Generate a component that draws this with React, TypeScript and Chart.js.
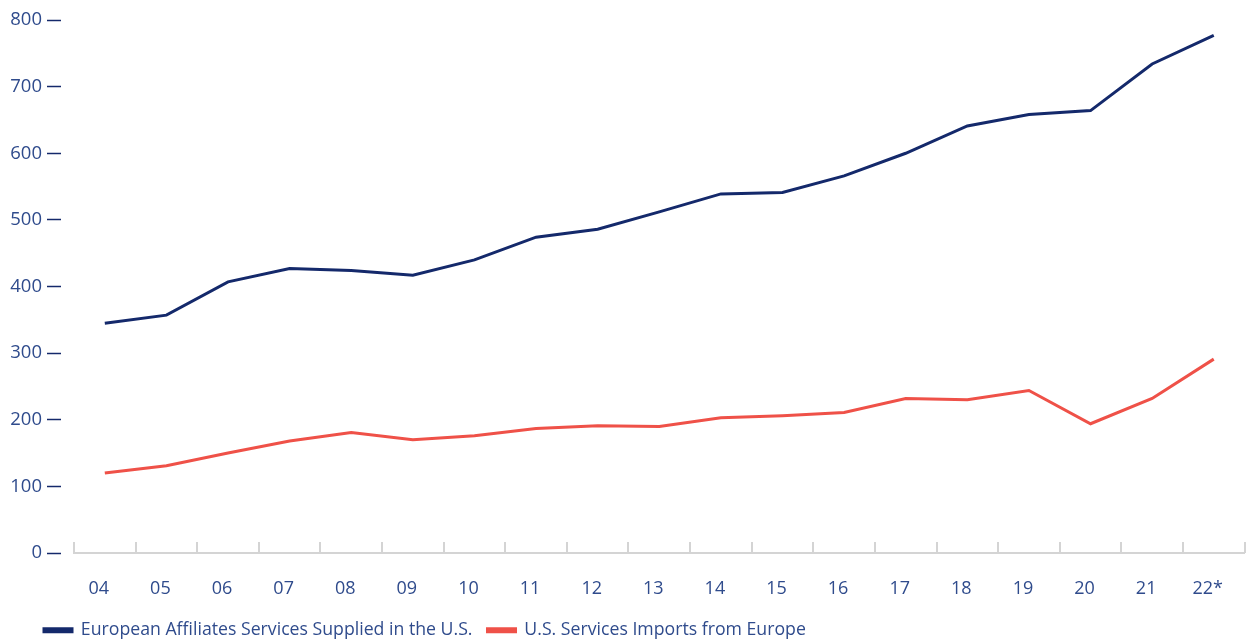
import React, { useEffect, useRef } from "react";
import { Chart, registerables } from "chart.js";

Chart.register(...registerables);

const years = ["04", "05", "06", "07", "08", "09", "10", "11", "12", "13", "14", "15", "16", "17", "18", "19", "20", "21", "22*"];
const affiliatesServices = [345, 357, 407, 427, 424, 417, 440, 474, 486, 512, 539, 541, 566, 600, 641, 658, 664, 734, 777];
const servicesImports = [120, 131, 150, 168, 181, 170, 176, 187, 191, 190, 203, 206, 211, 232, 230, 244, 194, 232, 291];
const seriesNames = ["European Affiliates Services Supplied in the U.S.", "U.S. Services Imports from Europe"];

const NAVY = "#14296b";
const RED = "#ef5148";
const TEXT = "#2f4b8c";
const GRAY = "#d4d4d4";
const FONT = "'Open Sans', sans-serif";

const upwardTicks = {
  id: "upwardTicks",
  afterLayout(chart: any) {
    if (chart.legend) chart.legend.left = 29;
  },
  afterDraw(chart: any) {
    const x = chart.scales.x;
    const area = chart.chartArea;
    const ctx = chart.ctx;
    const n = years.length;
    const half = (x.getPixelForValue(1) - x.getPixelForValue(0)) / 2;
    ctx.save();
    ctx.strokeStyle = GRAY;
    ctx.lineWidth = 2;
    for (let i = 0; i <= n; i++) {
      const px = Math.round(x.getPixelForValue(i) - half);
      ctx.beginPath();
      ctx.moveTo(px, area.bottom);
      ctx.lineTo(px, area.bottom - 11);
      ctx.stroke();
    }
    ctx.restore();
  },
};

export default function App() {
  const ref = useRef<HTMLCanvasElement | null>(null);
  useEffect(() => {
    document.body.style.margin = "0";
    const chart = new Chart(ref.current as HTMLCanvasElement, {
      type: "line",
      data: {
        labels: years,
        datasets: [
          { label: seriesNames[0], data: affiliatesServices, borderColor: NAVY, backgroundColor: NAVY, borderWidth: 3, pointRadius: 0, tension: 0 },
          { label: seriesNames[1], data: servicesImports, borderColor: RED, backgroundColor: RED, borderWidth: 3, pointRadius: 0, tension: 0 },
        ],
      },
      options: {
        animation: false,
        responsive: false,
        events: [],
        layout: { padding: { left: 8, right: -2, top: 20, bottom: 0 } },
        plugins: {
          tooltip: { enabled: false },
          legend: {
            position: "bottom",
            align: "start",
            maxHeight: 36.5,
            labels: {
              boxWidth: 28,
              boxHeight: 3,
              padding: 15,
              color: TEXT,
              font: { family: FONT, size: 17.7 },
            },
          },
        },
        scales: {
          x: {
            offset: true,
            afterFit: (scale: any) => { scale.height = 53.5; },
            grid: { display: true, drawOnChartArea: false, drawTicks: false, offset: true },
            border: { display: true, color: GRAY, width: 2 },
            ticks: { color: TEXT, font: { family: FONT, size: 18 }, padding: 25, labelOffset: -6, maxRotation: 0, autoSkip: false },
          },
          y: {
            min: 0,
            max: 800,
            afterFit: (scale: any) => { scale.width = 66; },
            grid: { drawOnChartArea: false, drawTicks: true, tickLength: 27, tickColor: NAVY, tickWidth: 1.5, tickBorderDash: [14, 20] },
            border: { display: false },
            ticks: { stepSize: 100, color: TEXT, font: { family: FONT, size: 18.5 }, padding: 5 },
          },
        },
      },
      plugins: [upwardTicks],
    });
    return () => chart.destroy();
  }, []);
  return (
    <div style={{ width: 1254, height: 643 }}>
      <canvas ref={ref} width={1254} height={643} style={{ display: "block" }} />
    </div>
  );
}
